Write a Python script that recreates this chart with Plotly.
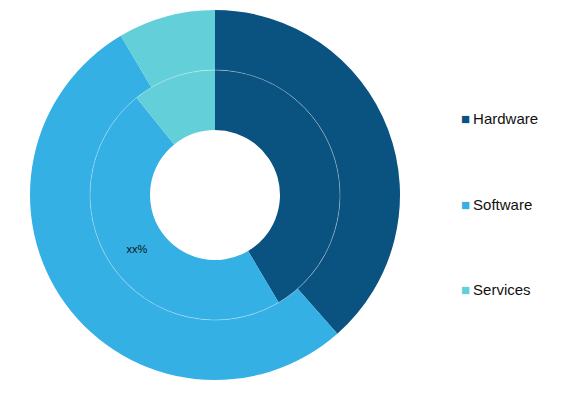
import plotly.graph_objects as go

# ---- data ----
categories = ["Hardware", "Software", "Services"]
outer_values = [38.5, 53.0, 8.5]
inner_values = [41.5, 47.7, 10.8]
inner_labels = ["", "xx%", ""]
colors = ["#0A5280", "#34B0E4", "#63CFD8"]

# ---- geometry (pixels) ----
W, H = 568, 394
cx, cy = 215, 195          # centre in px from top-left
R_out, R_mid, R_in = 185, 125, 65


def dom(r):
    cyb = H - cy
    return dict(x=[(cx - r) / W, (cx + r) / W], y=[(cyb - r) / H, (cyb + r) / H])


fig = go.Figure()

fig.add_trace(go.Pie(
    labels=categories, values=outer_values, sort=False, direction="clockwise",
    rotation=0, hole=R_mid / R_out, domain=dom(R_out),
    marker=dict(colors=colors, line=dict(width=0)),
    textinfo="none", showlegend=False, hoverinfo="label+value",
))

fig.add_trace(go.Pie(
    labels=categories, values=inner_values, sort=False, direction="clockwise",
    rotation=0, hole=R_in / R_mid, domain=dom(R_mid),
    marker=dict(colors=colors, line=dict(width=0)),
    text=inner_labels, textinfo="text", textposition="inside",
    insidetextorientation="horizontal",
    textfont=dict(family="Liberation Sans, Arial, sans-serif", size=11, color="#111111"),
    showlegend=False, hoverinfo="label+value",
))

# thin separator circle between rings
d = dom(R_mid)
fig.add_shape(type="circle", xref="paper", yref="paper",
              x0=d["x"][0], x1=d["x"][1], y0=d["y"][0], y1=d["y"][1],
              line=dict(color="rgba(255,255,255,0.3)", width=1), layer="above")

# legend drawn as text entries
leg_x = 459 / W
leg_y_px = [119, 204, 289]
for cat, col, yp in zip(categories, colors, leg_y_px):
    fig.add_annotation(
        x=leg_x, y=(H - yp) / H, xref="paper", yref="paper",
        xanchor="left", yanchor="middle", showarrow=False,
        text=f'<span style="color:{col};font-size:15px">■</span>\u2009{cat}',
        font=dict(family="Liberation Sans, Arial, sans-serif", size=15, color="#111111"),
    )

fig.update_layout(
    width=W, height=H, margin=dict(l=0, r=0, t=0, b=0),
    paper_bgcolor="white", plot_bgcolor="white", showlegend=False,
)

fig.write_html("out.html", config={"displayModeBar": False},
               post_script="document.body.style.margin='0px';")
